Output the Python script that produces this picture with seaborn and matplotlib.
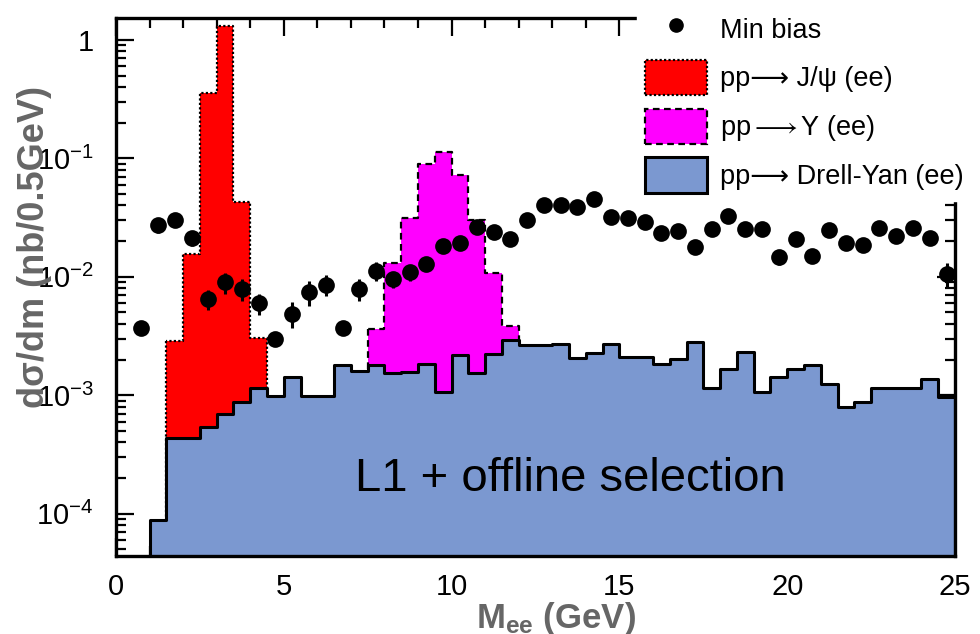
import numpy as np
import seaborn as sns
import matplotlib.pyplot as plt
from matplotlib.patches import Patch
from matplotlib.lines import Line2D
from matplotlib.ticker import FixedLocator, LogLocator, MultipleLocator, NullFormatter

# ---- data (nb / 0.5 GeV) ----
bin_width = 0.5
mass_edges = np.arange(0.0, 25.0 + bin_width / 2, bin_width)
mass_centers = mass_edges[:-1] + bin_width / 2

drell_yan = [0, 0, 8.9e-5, 4.4e-4, 4.4e-4, 5.4e-4, 7.0e-4, 8.7e-4, 1.16e-3, 9.8e-4,
             1.43e-3, 9.8e-4, 9.8e-4, 1.8e-3, 1.6e-3, 1.8e-3, 1.53e-3, 1.57e-3, 1.85e-3, 1.07e-3,
             2.2e-3, 1.55e-3, 2.25e-3, 2.93e-3, 2.64e-3, 2.64e-3, 2.7e-3, 2.08e-3, 2.26e-3, 2.7e-3,
             2.1e-3, 2.1e-3, 1.85e-3, 2.04e-3, 2.8e-3, 1.15e-3, 1.66e-3, 2.3e-3, 1.07e-3, 1.43e-3,
             1.66e-3, 1.79e-3, 1.25e-3, 8.0e-4, 8.8e-4, 1.16e-3, 1.16e-3, 1.16e-3, 1.36e-3, 9.7e-4]

jpsi_centers = [1.75, 2.25, 2.75, 3.25, 3.75, 4.25]
jpsi = [2.9e-3, 1.56e-2, 0.359, 1.31, 4.27e-2, 3.07e-3]

upsilon_centers = [7.75, 8.25, 8.75, 9.25, 9.75, 10.25, 10.75, 11.25, 11.75]
upsilon = [3.66e-3, 1.32e-2, 3.12e-2, 9.0e-2, 0.113, 7.2e-2, 3.0e-2, 1.07e-2, 3.85e-3]

minbias_mass = mass_centers[1:]
minbias = [3.72e-3, 2.75e-2, 3.03e-2, 2.12e-2, 6.5e-3, 9.0e-3, 7.9e-3, 6.0e-3, 3.0e-3, 4.9e-3,
           7.5e-3, 8.6e-3, 3.72e-3, 7.9e-3, 1.13e-2, 9.55e-3, 1.09e-2, 1.29e-2, 1.83e-2, 1.92e-2,
           2.65e-2, 2.41e-2, 2.08e-2, 3.03e-2, 4.05e-2, 4.05e-2, 3.87e-2, 4.55e-2, 3.19e-2, 3.12e-2,
           2.93e-2, 2.34e-2, 2.45e-2, 1.77e-2, 2.54e-2, 3.23e-2, 2.53e-2, 2.54e-2, 1.47e-2, 2.08e-2,
           1.51e-2, 2.49e-2, 1.92e-2, 1.84e-2, 2.58e-2, 2.23e-2, 2.6e-2, 2.12e-2, 1.06e-2]
minbias_err = [4e-4, 4e-3, 4e-3, 3e-3, 1.3e-3, 1.8e-3, 1.6e-3, 1.2e-3, 4e-4, 1.2e-3,
               1.8e-3, 1.7e-3, 5e-4, 1.7e-3, 2.0e-3, 1.5e-3, 1.6e-3, 1.8e-3, 2.5e-3, 2.5e-3,
               3e-3, 3e-3, 2.5e-3, 3e-3, 4e-3, 4e-3, 4e-3, 4e-3, 3e-3, 3e-3,
               3e-3, 2.5e-3, 2.5e-3, 2.2e-3, 2.5e-3, 3e-3, 2.5e-3, 2.5e-3, 2e-3, 2.5e-3,
               2e-3, 2.5e-3, 2.2e-3, 2.2e-3, 2.5e-3, 2.5e-3, 2.5e-3, 2.5e-3, 2.5e-3]

labels = ["Min bias", "pp\u27f6 J/\u03c8 (ee)", "pp$\\longrightarrow\\Upsilon$ (ee)",
          "pp\u27f6 Drell-Yan (ee)"]
dy_color = "#7b98d0"
gray = "#666666"

sns.set_style("ticks")
plt.rcParams["font.family"] = ["Liberation Sans", "DejaVu Sans"]
plt.rcParams["mathtext.fontset"] = "custom"
plt.rcParams["mathtext.rm"] = "Liberation Sans"
plt.rcParams["mathtext.bf"] = "Liberation Sans:bold"
plt.rcParams["mathtext.default"] = "regular"
for key in ["axes.edgecolor", "xtick.color", "ytick.color", "text.color", "axes.labelcolor"]:
    plt.rcParams[key] = "black"

fig = plt.figure(figsize=(9.8, 6.34), dpi=100)
ax = fig.add_axes([116 / 980, 78 / 634, 839 / 980, 538 / 634])
ax.set_yscale("log")
ax.set_axisbelow(True)

sns.histplot(x=jpsi_centers, weights=jpsi, bins=[1.5, 2.0, 2.5, 3.0, 3.5, 4.0, 4.5],
             element="step", fill=True, color="red", alpha=1, edgecolor="black",
             linestyle=(0, (1, 1)), linewidth=1.6, ax=ax)
sns.histplot(x=upsilon_centers, weights=upsilon,
             bins=[7.5, 8.0, 8.5, 9.0, 9.5, 10.0, 10.5, 11.0, 11.5, 12.0],
             element="step", fill=True, color="magenta", alpha=1, edgecolor="black",
             linestyle=(0, (3, 2)), linewidth=1.6, ax=ax)
sns.histplot(x=mass_centers, weights=drell_yan, bins=mass_edges.tolist(),
             element="step", fill=True, color=dy_color, alpha=1, edgecolor="black",
             linewidth=2.2, ax=ax)

ax.errorbar(minbias_mass, minbias, yerr=minbias_err, fmt="none", ecolor="black",
            elinewidth=2.2, zorder=4)
sns.scatterplot(x=minbias_mass, y=minbias, color="black", s=145, edgecolor="black",
                linewidth=0, zorder=5, ax=ax)

ax.set_xlim(0, 25)
ax.set_ylim(4.4e-5, 1.53)

ax.xaxis.set_major_locator(FixedLocator([0, 5, 10, 15, 20, 25]))
ax.xaxis.set_minor_locator(MultipleLocator(1))
ax.set_yticks([1e-4, 1e-3, 1e-2, 1e-1, 1])
ax.set_yticklabels([r"$10^{-4}$", r"$10^{-3}$", r"$10^{-2}$", r"$10^{-1}$", "1"])
ax.yaxis.set_minor_locator(LogLocator(base=10, subs=np.arange(2, 10), numticks=20))
ax.yaxis.set_minor_formatter(NullFormatter())

ax.tick_params(axis="both", which="both", direction="in", top=True, right=True, width=1.6)
ax.tick_params(axis="both", which="major", length=13)
ax.tick_params(axis="both", which="minor", length=7)
ax.tick_params(axis="x", which="major", labelsize=21, pad=12)
ax.tick_params(axis="y", which="major", labelsize=21, pad=16)
for sp in ax.spines.values():
    sp.set_linewidth(2.4)
    sp.set_zorder(3)

ax.set_xlabel(r"M$_{\mathbf{ee}}$ (GeV)", fontsize=25, fontweight="bold", color=gray)
ax.xaxis.set_label_coords(0.524, -0.082)
ax.set_ylabel("d\u03c3/dm (nb/0.5GeV)", fontsize=26, fontweight="bold", color=gray)
ax.yaxis.set_label_coords(-0.076, 0.574)

ax.text(0.285, 0.121, "L1 + offline selection", transform=ax.transAxes,
        fontsize=34, ha="left", va="baseline", color="black", zorder=6)

handles = [
    Line2D([], [], marker="o", linestyle="none", color="black", markersize=9.5),
    Patch(facecolor="red", edgecolor="black", linestyle=(0, (1, 1)), linewidth=1.6),
    Patch(facecolor="magenta", edgecolor="black", linestyle=(0, (3, 2)), linewidth=1.6),
    Patch(facecolor=dy_color, edgecolor="black", linewidth=2.2),
]
leg = ax.legend(handles, labels, loc="upper left", bbox_to_anchor=(637 / 980, 0.995),
                bbox_transform=fig.transFigure, borderaxespad=0, borderpad=0.3,
                fontsize=19.5, handlelength=2.3, handleheight=1.62, handletextpad=0.45,
                labelspacing=0.5, frameon=True, fancybox=False)
leg.get_frame().set_facecolor("white")
leg.get_frame().set_edgecolor("white")
leg.get_frame().set_alpha(1)
leg.get_texts()[2].set_math_fontfamily("stix")
leg.set_zorder(10)

fig.savefig("out.png", dpi=100)
